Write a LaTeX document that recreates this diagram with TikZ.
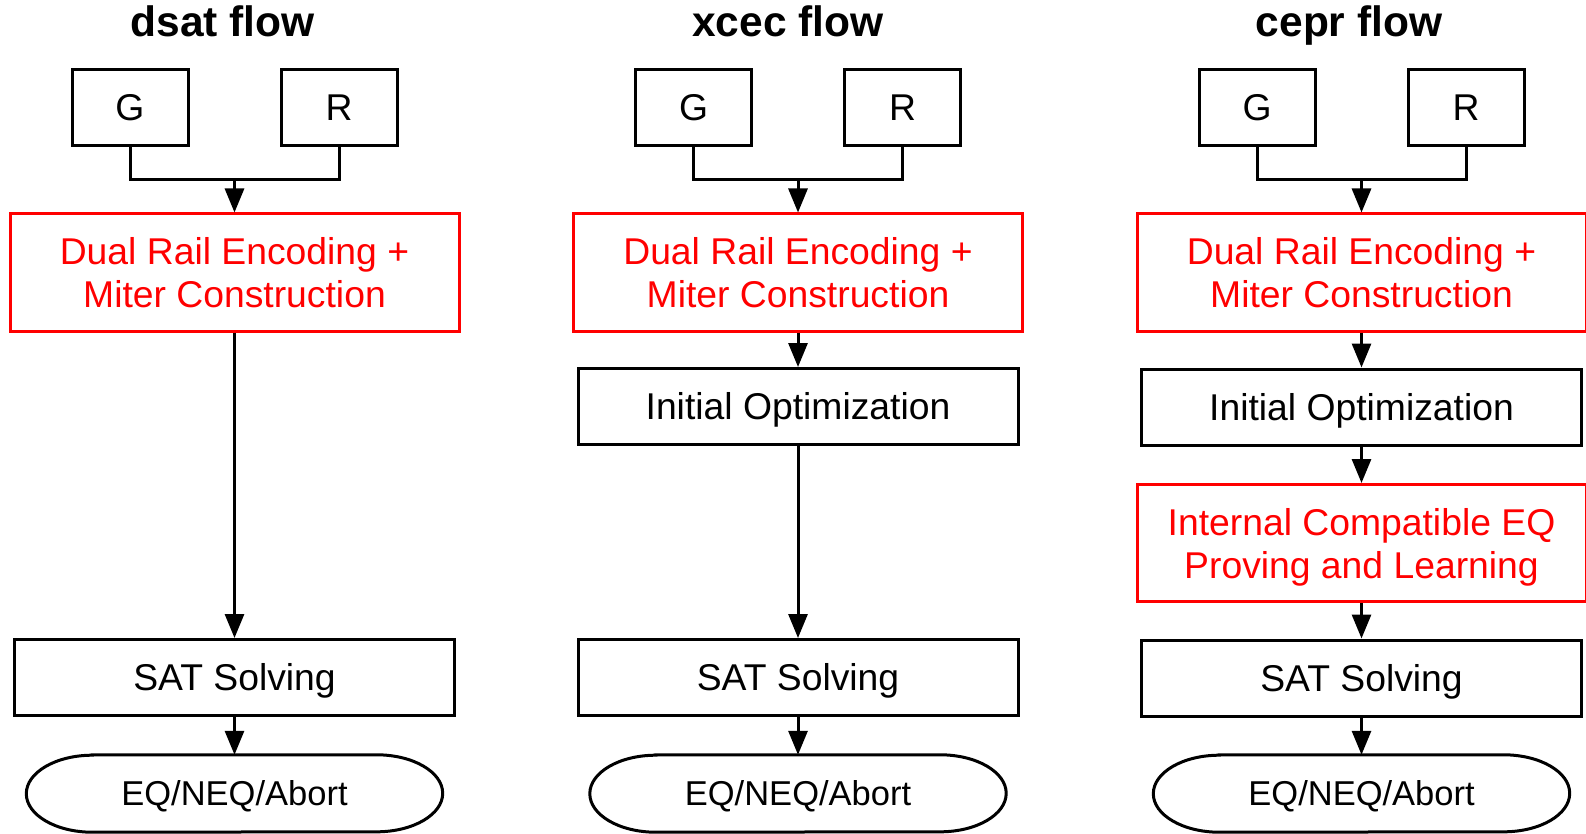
\documentclass[tikz,border=0pt]{standalone}
\usepackage{fontspec}
\setmainfont{Liberation Sans}
\usetikzlibrary{arrows.meta}

\tikzset{
  link/.style={line width=3pt},
  arr/.style={line width=3pt, -{Triangle[width=19pt,length=24pt]}},
  box/.style={draw, line width=3pt, rectangle, inner sep=0pt,
    font=\fontsize{37.3}{43}\selectfont, text height=26.7pt, text depth=0pt},
  inbox/.style={box, minimum width=116pt, minimum height=76pt},
  stepbox/.style={box, minimum width=440pt, minimum height=76pt},
  redbox/.style={draw=red, text=red, line width=3pt, rectangle, inner sep=0pt,
    align=center, font=\fontsize{37.3}{43}\selectfont,
    minimum width=449pt, minimum height=117pt},
  term/.style={rectangle, inner sep=0pt, minimum width=416pt, minimum height=77pt,
    font=\fontsize{34.5}{40}\selectfont, text height=24.7pt, text depth=0pt},
  flowtitle/.style={anchor=base, font=\fontsize{42.5}{48}\selectfont\bfseries},
}

% outline of a terminator node: flat top and bottom, elliptic ends
\newcommand{\termoutline}[1]{%
  \draw[link] ([xshift=66pt]#1.north west) -- ([xshift=-66pt]#1.north east)
    arc[start angle=90, end angle=-90, x radius=66pt, y radius=38.5pt]
    -- ([xshift=66pt]#1.south west)
    arc[start angle=270, end angle=90, x radius=66pt, y radius=38.5pt] -- cycle;}

\begin{document}
\begin{tikzpicture}[x=1pt, y=-1pt]
\useasboundingbox (0,0) rectangle (1586,834);

% ---------------- dsat flow ----------------
\node[flowtitle] (dt) at (222.5,37) {dsat flow};
\node[inbox] (dg) at (130,107.5) {G};
\node[inbox] (dr) at (339,107.5) {R};
\coordinate (dj) at (234.5,180);
\node[redbox] (dm) at (234.5,272.5) {Dual Rail Encoding +\\Miter Construction};
\node[stepbox] (ds) at (234.5,677.5) {SAT Solving};
\node[term] (de) at (234.5,793.5) {EQ/NEQ/Abort};
\termoutline{de}
\draw[link] (dg.south) |- (dj) -| (dr.south);
\draw[arr] (dj) -- (dm.north);
\draw[arr] (dm.south) -- (ds.north);
\draw[arr] (ds.south) -- (de.north);

% ---------------- xcec flow ----------------
\node[flowtitle] (xt) at (788,37) {xcec flow};
\node[inbox] (xg) at (693.5,107.5) {G};
\node[inbox] (xr) at (902.5,107.5) {R};
\coordinate (xj) at (798,180);
\node[redbox] (xm) at (798,272.5) {Dual Rail Encoding +\\Miter Construction};
\node[stepbox] (xo) at (798,406.5) {Initial Optimization};
\node[stepbox] (xs) at (798,677.5) {SAT Solving};
\node[term] (xe) at (798,793.5) {EQ/NEQ/Abort};
\termoutline{xe}
\draw[link] (xg.south) |- (xj) -| (xr.south);
\draw[arr] (xj) -- (xm.north);
\draw[arr] (xm.south) -- (xo.north);
\draw[arr] (xo.south) -- (xs.north);
\draw[arr] (xs.south) -- (xe.north);

% ---------------- cepr flow ----------------
\node[flowtitle] (ct) at (1349,37) {cepr flow};
\node[inbox] (cg) at (1257,107.5) {G};
\node[inbox] (cr) at (1466,107.5) {R};
\coordinate (cj) at (1361.5,180);
\node[redbox] (cm) at (1361.5,272.5) {Dual Rail Encoding +\\Miter Construction};
\node[stepbox] (co) at (1361.5,407) {Initial Optimization};
\node[redbox] (cp) at (1361.5,543) {Internal Compatible EQ\\\smash{Proving and Learning}};
\node[stepbox] (cs) at (1361.5,678) {SAT Solving};
\node[term] (ce) at (1361.5,793.5) {EQ/NEQ/Abort};
\termoutline{ce}
\draw[link] (cg.south) |- (cj) -| (cr.south);
\draw[arr] (cj) -- (cm.north);
\draw[arr] (cm.south) -- (co.north);
\draw[arr] (co.south) -- (cp.north);
\draw[arr] (cp.south) -- (cs.north);
\draw[arr] (cs.south) -- (ce.north);
\end{tikzpicture}
\end{document}
